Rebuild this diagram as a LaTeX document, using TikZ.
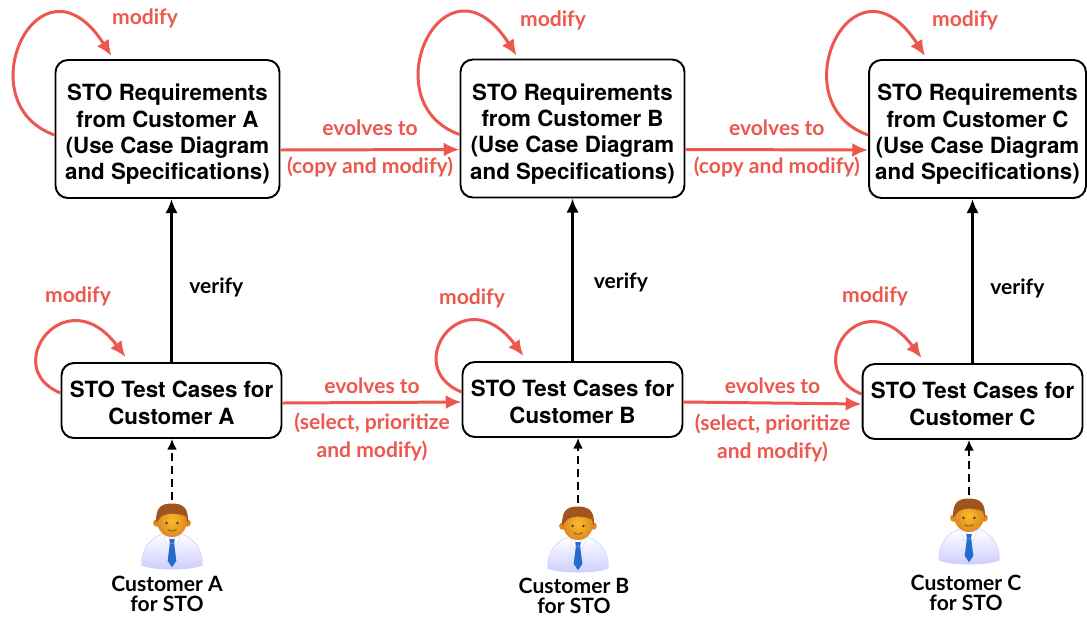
\documentclass[tikz,border=0pt]{standalone}
\usepackage{fontspec}
\setmainfont{TeX Gyre Heros}
\newfontfamily\lblfont{Lato}
\usetikzlibrary{arrows.meta}

\definecolor{evored}{RGB}{236,88,78}
\definecolor{tieblue}{RGB}{38,108,205}
\definecolor{skin}{RGB}{246,174,52}
\definecolor{skindark}{RGB}{222,136,34}
\definecolor{hair}{RGB}{160,84,30}

% taller first line, pushes box text down a little
\newcommand\reqstrut{\rule{0pt}{15.5pt}}
\newcommand\teststrut{\rule{0pt}{12pt}}

\tikzset{
  box/.style={draw, line width=1.1pt, rounded corners=7pt, align=center, inner sep=0pt,
    font=\bfseries\fontsize{12.7}{15}\selectfont},
  reqbox/.style={box, minimum width=4.48cm, minimum height=2.76cm},
  testbox/.style={box, minimum width=4.4cm, minimum height=1.5cm},
  evo/.style={evored, line width=1.7pt, -{Latex[length=9pt,width=8pt]}},
  verify/.style={black, line width=1.7pt, -{Latex[length=8pt,width=7pt]}},
  uses/.style={black, line width=1pt, dash pattern=on 4.5pt off 3pt, -{Latex[length=6pt,width=5.5pt]}},
  lbl/.style={evored, align=center, font=\lblfont\bfseries\fontsize{12}{15.8}\selectfont},
  vlbl/.style={black, font=\lblfont\bfseries\fontsize{12}{14}\selectfont},
  custlbl/.style={black, align=center, font=\lblfont\bfseries\fontsize{12}{11.5}\selectfont},
  pics/person/.style={code={
    % neck and shirt
    \fill[skin] (-6,-8) rectangle (6,0);
    \shade[top color=white, bottom color=blue!20, draw=blue!20, line width=0.3pt]
      (-28,26) .. controls (-29,12) and (-20,0) .. (-8,-3) -- (8,-3)
      .. controls (20,0) and (29,12) .. (28,26) .. controls (18,31) and (-18,31) .. (-28,26) -- cycle;
    \fill[white, draw=blue!15, line width=0.3pt] (-8,-3) -- (0,3) -- (-4,8) -- cycle;
    \fill[white, draw=blue!15, line width=0.3pt] (8,-3) -- (0,3) -- (4,8) -- cycle;
    % tie
    \fill[tieblue] (-2.5,2) -- (2.5,2) -- (2,6) -- (-2,6) -- cycle;
    \fill[tieblue] (-2,6) -- (2,6) -- (4,22) -- (0,28) -- (-4,22) -- cycle;
    % head
    \fill[skindark] (-14,-13) circle (0.07cm) (14,-13) circle (0.07cm);
    \shade[inner color=skin!80!yellow, outer color=skindark] (0,-15) ellipse (0.28cm and 0.3cm);
    \fill[hair] (-14.5,-13) .. controls (-16,-29) and (-8,-31) .. (0,-31)
      .. controls (10,-31) and (16,-27) .. (14.5,-13) -- (13,-19)
      .. controls (6,-22) and (-4,-23) .. (-10,-19) .. controls (-12,-17) and (-13,-15) .. cycle;
    \fill[brown!40!black] (-5,-13) circle (0.025cm) (5,-13) circle (0.025cm);
    \draw[brown!60!black, line width=0.4pt] (-4,-7) .. controls (-2,-5) and (2,-5) .. (4,-7);
    \coordinate (-top) at (0,-34);
  }}
}

\begin{document}
\begin{tikzpicture}[x=0.02cm, y=-0.02cm]
  \useasboundingbox (0,0) rectangle (1087,616);

  % requirement boxes
  \node (ReqA) at (167.5,129) [reqbox] {\reqstrut STO Requirements\\from Customer A\\(Use Case Diagram\\and Specifications)};
  \node (ReqB) at (572.5,128.5) [reqbox] {\reqstrut STO Requirements\\from Customer B\\(Use Case Diagram\\and Specifications)};
  \node (ReqC) at (977.5,129) [reqbox, minimum width=4.34cm] {\reqstrut STO Requirements\\from Customer C\\(Use Case Diagram\\and Specifications)};

  % test case boxes
  \node (TestA) at (171.5,400.5) [testbox] {\teststrut STO Test Cases for\\Customer A};
  \node (TestB) at (572.5,399.5) [testbox] {\teststrut STO Test Cases for\\Customer B};
  \node (TestC) at (972.5,401.5) [testbox] {\teststrut STO Test Cases for\\Customer C};

  % customers
  \pic (UserA) at (172,537) [scale=1.08] {person};
  \pic (UserB) at (578,540) [scale=1.08] {person};
  \pic (UserC) at (969,532) [scale=1.08] {person};
  \node (CustA) at (167,594) [custlbl] {Customer A\\for STO};
  \node (CustB) at (574,596) [custlbl] {Customer B\\for STO};
  \node (CustC) at (966,593) [custlbl] {Customer C\\for STO};

  \draw [uses] (UserA-top) -- (UserA-top |- TestA.south);
  \draw [uses] (UserB-top) -- (UserB-top |- TestB.south);
  \draw [uses] (UserC-top) -- (UserC-top |- TestC.south);

  % verify
  \draw [verify] (TestA.north) -- (TestA.north |- ReqA.south) node [midway, right, xshift=6pt, yshift=-0.14cm, vlbl] (VerA) {verify};
  \draw [verify] (TestB.north) -- (TestB.north |- ReqB.south) node [midway, right, xshift=8pt, yshift=-0.06cm, vlbl] (VerB) {verify};
  \draw [verify] (TestC.north) -- (TestC.north |- ReqC.south) node [midway, right, xshift=6pt, yshift=-0.14cm, vlbl] (VerC) {verify};

  % evolution of requirements
  \draw [evo] ([yshift=-0.42cm]ReqA.east) -- ([yshift=-0.42cm]ReqB.west)
    node [midway, above=4pt, lbl] (EvoReqAB) {evolves to}
    node [midway, below=0pt, lbl] (CopyAB) {(copy and modify)};
  \draw [evo] ([yshift=-0.42cm]ReqB.east) -- ([yshift=-0.42cm]ReqC.west)
    node [midway, above=4pt, lbl] (EvoReqBC) {evolves to}
    node [midway, below=0pt, lbl] (CopyBC) {(copy and modify)};

  % evolution of test cases
  \draw [evo] ([yshift=-0.05cm]TestA.east) -- ([yshift=-0.05cm]TestB.west)
    node [midway, above=1pt, lbl] (EvoTestAB) {evolves to}
    node [midway, below=2pt, lbl] (SelAB) {(select, prioritize\\and modify)};
  \draw [evo] ([yshift=-0.05cm]TestB.east) -- ([yshift=-0.05cm]TestC.west)
    node [midway, above=1pt, lbl] (EvoTestBC) {evolves to}
    node [midway, below=2pt, lbl] (SelBC) {(select, prioritize\\and modify)};

  % self modification
  \draw [evo] ([yshift=-0.12cm]ReqA.west) .. controls +(-90,-32) and +(-72,-112) .. ([xshift=1.14cm, yshift=0.06cm]ReqA.north west);
  \draw [evo] ([yshift=-0.12cm]ReqB.west) .. controls +(-90,-32) and +(-72,-112) .. ([xshift=1.14cm, yshift=0.06cm]ReqB.north west);
  \draw [evo] ([yshift=-0.12cm]ReqC.west) .. controls +(-90,-32) and +(-72,-112) .. ([xshift=1.14cm, yshift=0.06cm]ReqC.north west);
  \draw [evo] ([yshift=0.15cm]TestA.west) .. controls +(-62,-25) and +(-60,-80) .. ([xshift=1.3cm, yshift=0.1cm]TestA.north west);
  \draw [evo] ([yshift=0.15cm]TestB.west) .. controls +(-62,-25) and +(-60,-80) .. ([xshift=1.24cm, yshift=0.1cm]TestB.north west);
  \draw [evo] ([yshift=0.15cm]TestC.west) .. controls +(-62,-25) and +(-60,-80) .. ([xshift=1.2cm, yshift=0.1cm]TestC.north west);

  \node (ModReqA) at (145,18) [lbl] {modify};
  \node (ModReqB) at (553,20) [lbl] {modify};
  \node (ModReqC) at (965,20) [lbl] {modify};
  \node (ModTestA) at (78,296) [lbl] {modify};
  \node (ModTestB) at (472,298) [lbl] {modify};
  \node (ModTestC) at (875,296) [lbl] {modify};
\end{tikzpicture}
\end{document}
